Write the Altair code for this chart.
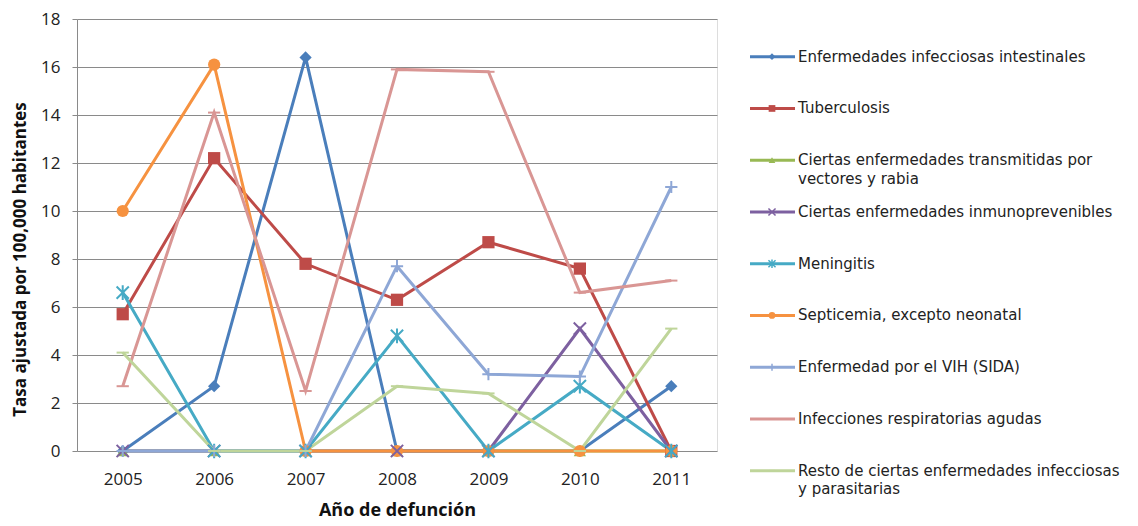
import altair as alt
import pandas as pd

years = ["2005", "2006", "2007", "2008", "2009", "2010", "2011"]

series = [
    "Enfermedades infecciosas intestinales",
    "Tuberculosis",
    "Ciertas enfermedades transmitidas por vectores y rabia",
    "Ciertas enfermedades inmunoprevenibles",
    "Meningitis",
    "Septicemia, excepto neonatal",
    "Enfermedad por el VIH (SIDA)",
    "Infecciones respiratorias agudas",
    "Resto de ciertas enfermedades infecciosas y parasitarias",
]

legend_labels = [
    "Enfermedades infecciosas intestinales",
    "Tuberculosis",
    "Ciertas enfermedades transmitidas por\nvectores y rabia",
    "Ciertas enfermedades inmunoprevenibles",
    "Meningitis",
    "Septicemia, excepto neonatal",
    "Enfermedad por el VIH (SIDA)",
    "Infecciones respiratorias agudas",
    "Resto de ciertas enfermedades infecciosas\ny parasitarias",
]

intestinales = [0, 2.7, 16.4, 0, 0, 0, 2.7]
tuberculosis = [5.7, 12.2, 7.8, 6.3, 8.7, 7.6, 0]
vectores = [0, 0, 0, 0, 0, 0, 0]
inmunoprevenibles = [0, 0, 0, 0, 0, 5.1, 0]
meningitis = [6.6, 0, 0, 4.8, 0, 2.7, 0]
septicemia = [10.0, 16.1, 0, 0, 0, 0, 0]
vih = [0, 0, 0, 7.7, 3.2, 3.1, 11.0]
respiratorias = [2.7, 14.1, 2.5, 15.9, 15.8, 6.6, 7.1]
resto = [4.1, 0, 0, 2.7, 2.4, 0, 5.1]

values = [intestinales, tuberculosis, vectores, inmunoprevenibles, meningitis,
          septicemia, vih, respiratorias, resto]

colors = ["#4A7EBB", "#BE4B48", "#98B954", "#7D60A0", "#46AAC5",
          "#F69240", "#8EA7D6", "#D99694", "#BFD59A"]

X_PATH = "M-1,-1L1,1M-1,1L1,-1"
STAR_PATH = "M-1,-1L1,1M-1,1L1,-1M0,-1.2L0,1.2"
PLUS_PATH = "M-1,0L1,0M0,-1L0,1"
DASH_PATH = "M-1,0L1,0"
shapes = ["diamond", "square", "triangle-up", X_PATH, STAR_PATH,
          "circle", PLUS_PATH, DASH_PATH, DASH_PATH]
filled_kind = [True, True, True, False, False, True, False, False, False]

rows = []
for si, (s, vals) in enumerate(zip(series, values)):
    for y, v in zip(years, vals):
        rows.append({"serie": s, "order": si, "year": y, "value": v,
                     "filled": filled_kind[si]})
df = pd.DataFrame(rows)

leg = pd.DataFrame({"serie": series, "idx": list(range(len(series))),
                    "label": legend_labels, "filled": filled_kind})

color_scale = alt.Scale(domain=series, range=colors)
shape_scale = alt.Scale(domain=series, range=shapes)

x_enc = alt.X("year:O", title="Año de defunción",
              axis=alt.Axis(labelAngle=0, ticks=False, domain=False,
                            labelFont="Open Sans", labelFontSize=17,
                            labelColor="#222222", labelPadding=20,
                            titleFont="Open Sans", titleFontSize=18,
                            titleFontWeight="bold", titleColor="#111111",
                            titlePadding=14))
y_enc = alt.Y("value:Q", title="Tasa ajustada  por 100,000 habitantes",
              scale=alt.Scale(domain=[0, 18], nice=False),
              axis=alt.Axis(values=list(range(0, 19, 2)), grid=True,
                            gridColor="#8A8A8A", gridWidth=1,
                            domainColor="#8A8A8A", tickColor="#8A8A8A",
                            tickSize=5, labelFont="Open Sans",
                            labelFontSize=17, labelColor="#222222",
                            labelPadding=12, titleFont="Open Sans",
                            titleFontSize=17, titleFontWeight="bold",
                            titleColor="#111111", titlePadding=11,
                            titleY=240))

color_enc = alt.Color("serie:N", scale=color_scale, legend=None)
shape_enc = alt.Shape("serie:N", scale=shape_scale, legend=None)

base = alt.Chart(df)
lines = base.mark_line(strokeWidth=3).encode(
    x=x_enc, y=y_enc, color=color_enc, detail="serie:N",
    order=alt.Order("year:O"))
pts_fill = base.transform_filter("datum.filled").mark_point(
    filled=True, size=150, opacity=1).encode(
    x="year:O", y="value:Q", color=color_enc, shape=shape_enc)
pts_stroke = base.transform_filter("!datum.filled").mark_point(
    filled=False, size=150, strokeWidth=2, opacity=1).encode(
    x="year:O", y="value:Q", color=color_enc, shape=shape_enc)

main = alt.layer(lines, pts_fill, pts_stroke)

ly = alt.Y("idx:Q", scale=alt.Scale(domain=[0, 8], range=[37.7, 451.7]),
           axis=None)
lbase = alt.Chart(leg)
lrule = lbase.mark_rule(strokeWidth=3).encode(
    x=alt.value(673), x2=alt.value(718), y=ly, color=color_enc)
lpf = lbase.transform_filter("datum.filled").mark_point(
    filled=True, size=45, opacity=1).encode(
    x=alt.value(695), y=ly, color=color_enc, shape=shape_enc)
lps = lbase.transform_filter("!datum.filled").mark_point(
    filled=False, size=50, strokeWidth=1.5, opacity=1).encode(
    x=alt.value(695), y=ly, color=color_enc, shape=shape_enc)
ltext = lbase.mark_text(align="left", baseline="alphabetic", dy=5,
                        font="DejaVu Sans", fontSize=15,
                        color="#222222", lineBreak="\n",
                        lineHeight=18.5).encode(
    x=alt.value(721), y=ly, text="label:N")

legend_layer = alt.layer(lrule, lpf, lps, ltext)

chart = alt.layer(main, legend_layer).resolve_scale(y="independent").properties(
    width=640, height=432,
    padding={"left": 3, "top": 2, "right": 0, "bottom": 4},
).configure_view(stroke=None).configure(background="white")

chart.save("out.html", embed_options={"renderer": "svg", "actions": False})
